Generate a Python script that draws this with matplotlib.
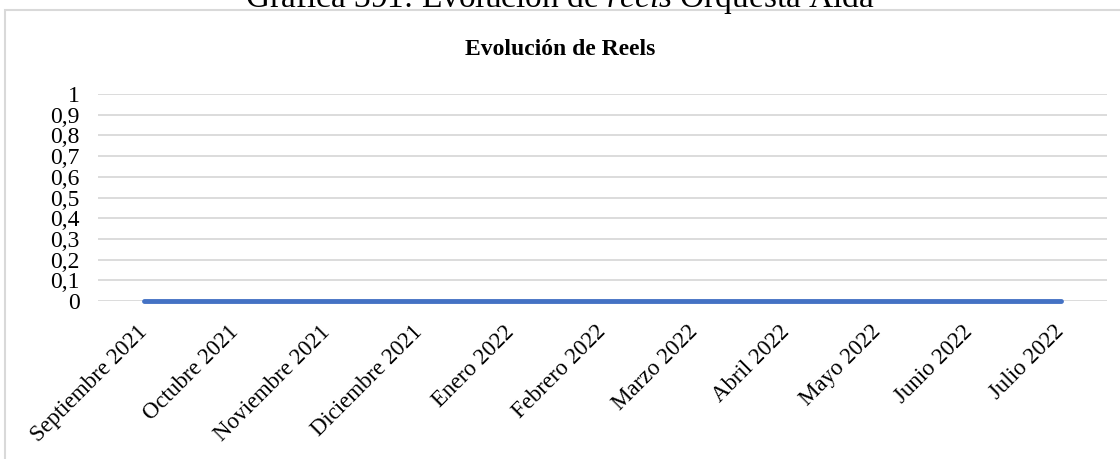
import matplotlib.pyplot as plt
from matplotlib.patches import Rectangle

# Datos de reels por mes
meses = ['Septiembre 2021', 'Octubre 2021', 'Noviembre 2021', 'Diciembre 2021',
         'Enero 2022', 'Febrero 2022', 'Marzo 2022', 'Abril 2022', 'Mayo 2022',
         'Junio 2022', 'Julio 2022']
reels = [0, 0, 0, 0, 0, 0, 0, 0, 0, 0, 0]
ticks_y = [0, 0.1, 0.2, 0.3, 0.4, 0.5, 0.6, 0.7, 0.8, 0.9, 1]

plt.rcParams['font.family'] = ['Liberation Serif', 'DejaVu Serif']
plt.rcParams['mathtext.fontset'] = 'custom'
plt.rcParams['mathtext.rm'] = 'Liberation Serif'
plt.rcParams['mathtext.it'] = 'Liberation Serif:italic'

fig = plt.figure(figsize=(11.2, 4.59), dpi=100)
ax = fig.add_axes([98 / 1120, 158 / 459, 1009 / 1120, 207 / 459])

# Marco del gráfico
fig.patches.append(Rectangle((5 / 1120, -0.1), 1.2, (459 - 10) / 459 + 0.1,
                             transform=fig.transFigure, fill=False,
                             edgecolor='#d9d9d9', linewidth=1.5))

# Título del documento (cortado arriba)
fig.text(0.5, 1 - 7 / 459, 'Gráfica 391: Evolución de $\\it{reels}$ Orquesta Aida',
         ha='center', va='baseline', fontsize=24)
fig.text(0.5, 1 - 55 / 459, 'Evolución de Reels', ha='center', va='baseline',
         fontsize=17, fontweight='bold')

x = range(len(meses))
ax.plot(x, reels, color='#4472C4', linewidth=3.5, solid_capstyle='round',
        zorder=3, clip_on=False)

ax.set_xlim(-0.5, len(meses) - 0.5)
ax.set_ylim(0, 1)
ax.set_yticks(ticks_y)
ax.set_yticklabels([str(v).replace('.', ',') if v not in (0, 1) else str(int(v)) for v in ticks_y])
ax.set_xticks(list(x))
ax.set_xticklabels(meses, rotation=45, ha='right', va='center', rotation_mode='anchor')

ax.grid(axis='y', color='#d9d9d9', linewidth=1.3)
ax.set_axisbelow(True)
for s in ax.spines.values():
    s.set_visible(False)
ax.tick_params(axis='both', length=0, labelsize=16.5)
ax.tick_params(axis='y', labelsize=17, pad=13)
ax.tick_params(axis='x', pad=20)

fig.savefig('out.png')
